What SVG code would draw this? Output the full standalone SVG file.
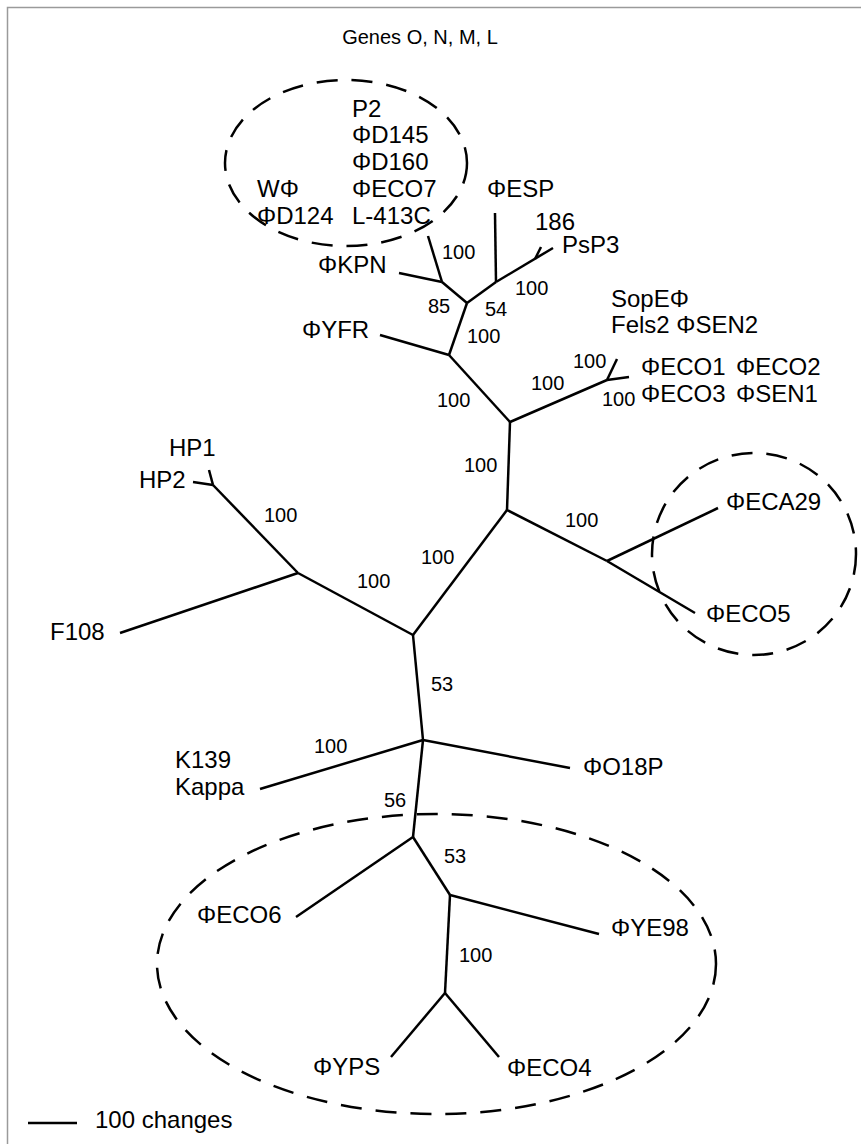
<svg xmlns="http://www.w3.org/2000/svg" width="861" height="1144" viewBox="0 0 861 1144">
<style>
text{font-family:"Liberation Sans",Arial,sans-serif;fill:#000}
.lab{font-size:24px}
.num{font-size:20px}
.ttl{font-size:20px}
.e{stroke:#000;stroke-width:2.5;fill:none;stroke-linecap:butt}
.grp{stroke:#000;stroke-width:2.5;fill:none;stroke-dasharray:21 14}
.frame{stroke:#9a9a9a;stroke-width:1.5;fill:none}
</style>
<rect width="861" height="1144" fill="#fff"/>
<path class="frame" d="M7.5 1144 V7.5 H861"/>
<text class="ttl" x="420" y="44" text-anchor="middle">Genes O, N, M, L</text>

<g id="clusters">
<ellipse id="cluster-top" class="grp" cx="346" cy="163" rx="121" ry="83"/>
<ellipse id="cluster-right" class="grp" cx="754" cy="554" rx="102" ry="101"/>
<ellipse id="cluster-bottom" class="grp" cx="436.5" cy="964" rx="279.5" ry="150"/>
</g>

<g id="connectors">
<path class="e" d="M428 236 L442 282"/>
<path class="e" d="M399 273 L442 282"/>
<path class="e" d="M442 282 L467 303"/>
<path class="e" d="M467 303 L496 282"/>
<path class="e" d="M495 213 L496 282"/>
<path class="e" d="M496 282 L553 248"/>
<path class="e" d="M535 259 L541 247"/>
<path class="e" d="M467 303 L449 355"/>
<path class="e" d="M380 335 L449 355"/>
<path class="e" d="M449 355 L510 422"/>
<path class="e" d="M510 422 L607 380"/>
<path class="e" d="M607 380 L629 377"/>
<path class="e" d="M607 380 L617 359"/>
<path class="e" d="M510 422 L507 510"/>
<path class="e" d="M507 510 L607 561"/>
<path class="e" d="M607 561 L718 508"/>
<path class="e" d="M607 561 L695 613"/>
<path class="e" d="M507 510 L413 635"/>
<path class="e" d="M413 635 L298 573"/>
<path class="e" d="M298 573 L213 485"/>
<path class="e" d="M213 485 L209 470"/>
<path class="e" d="M213 485 L193 482"/>
<path class="e" d="M298 573 L120 633"/>
<path class="e" d="M413 635 L423 740"/>
<path class="e" d="M423 740 L260 789"/>
<path class="e" d="M423 740 L570 768"/>
<path class="e" d="M423 740 L413 837"/>
<path class="e" d="M413 837 L296 917"/>
<path class="e" d="M413 837 L450 895"/>
<path class="e" d="M450 895 L599 934"/>
<path class="e" d="M450 895 L445 993"/>
<path class="e" d="M445 993 L391 1057"/>
<path class="e" d="M445 993 L499 1057"/>
</g>

<g id="support-values" class="num">
<text class="num" x="442" y="259">100</text>
<text class="num" x="515" y="295">100</text>
<text class="num" x="428" y="313">85</text>
<text class="num" x="485" y="316">54</text>
<text class="num" x="467" y="343">100</text>
<text class="num" x="573" y="368">100</text>
<text class="num" x="531" y="390">100</text>
<text class="num" x="602" y="406">100</text>
<text class="num" x="437" y="407">100</text>
<text class="num" x="464" y="472">100</text>
<text class="num" x="264" y="522">100</text>
<text class="num" x="565" y="527">100</text>
<text class="num" x="421" y="564">100</text>
<text class="num" x="357" y="588">100</text>
<text class="num" x="431" y="691">53</text>
<text class="num" x="314" y="753">100</text>
<text class="num" x="384" y="807">56</text>
<text class="num" x="444" y="863">53</text>
<text class="num" x="459" y="962">100</text>
</g>

<g id="node-P2-group" class="lab">
<text class="lab" x="352" y="117">P2</text>
<text class="lab" x="352" y="143">ΦD145</text>
<text class="lab" x="352" y="170">ΦD160</text>
<text class="lab" x="352" y="197">ΦECO7</text>
<text class="lab" x="352" y="224">L-413C</text>
</g>
<g id="node-WPhi"><text class="lab" x="257" y="197">WΦ</text><text class="lab" x="257" y="224">ΦD124</text></g>
<g id="node-ESP"><text class="lab" x="487" y="197">ΦESP</text></g>
<g id="node-186"><text class="lab" x="535" y="230">186</text></g>
<g id="node-PsP3"><text class="lab" x="562" y="253">PsP3</text></g>
<g id="node-KPN"><text class="lab" x="318" y="273">ΦKPN</text></g>
<g id="node-YFR"><text class="lab" x="302" y="338">ΦYFR</text></g>
<g id="node-SopE"><text class="lab" x="611" y="307">SopEΦ</text><text class="lab" x="611" y="333">Fels2 ΦSEN2</text></g>
<g id="node-ECO1"><text class="lab" x="641" y="375">ΦECO1</text><text class="lab" x="736" y="375">ΦECO2</text><text class="lab" x="641" y="402">ΦECO3</text><text class="lab" x="736" y="402">ΦSEN1</text></g>
<g id="node-HP"><text class="lab" x="169" y="456">HP1</text><text class="lab" x="139" y="488">HP2</text></g>
<g id="node-ECA29"><text class="lab" x="726" y="510">ΦECA29</text></g>
<g id="node-ECO5"><text class="lab" x="706" y="622">ΦECO5</text></g>
<g id="node-F108"><text class="lab" x="50" y="640">F108</text></g>
<g id="node-K139"><text class="lab" x="175" y="768">K139</text><text class="lab" x="175" y="795">Kappa</text></g>
<g id="node-O18P"><text class="lab" x="583" y="775">ΦO18P</text></g>
<g id="node-ECO6"><text class="lab" x="197" y="923">ΦECO6</text></g>
<g id="node-YE98"><text class="lab" x="611" y="936">ΦYE98</text></g>
<g id="node-YPS"><text class="lab" x="313" y="1075">ΦYPS</text></g>
<g id="node-ECO4"><text class="lab" x="507" y="1076">ΦECO4</text></g>

<g id="scale-bar">
<path class="e" d="M28 1123 H77"/>
<text class="lab" x="95" y="1128">100 changes</text>
</g>
</svg>
